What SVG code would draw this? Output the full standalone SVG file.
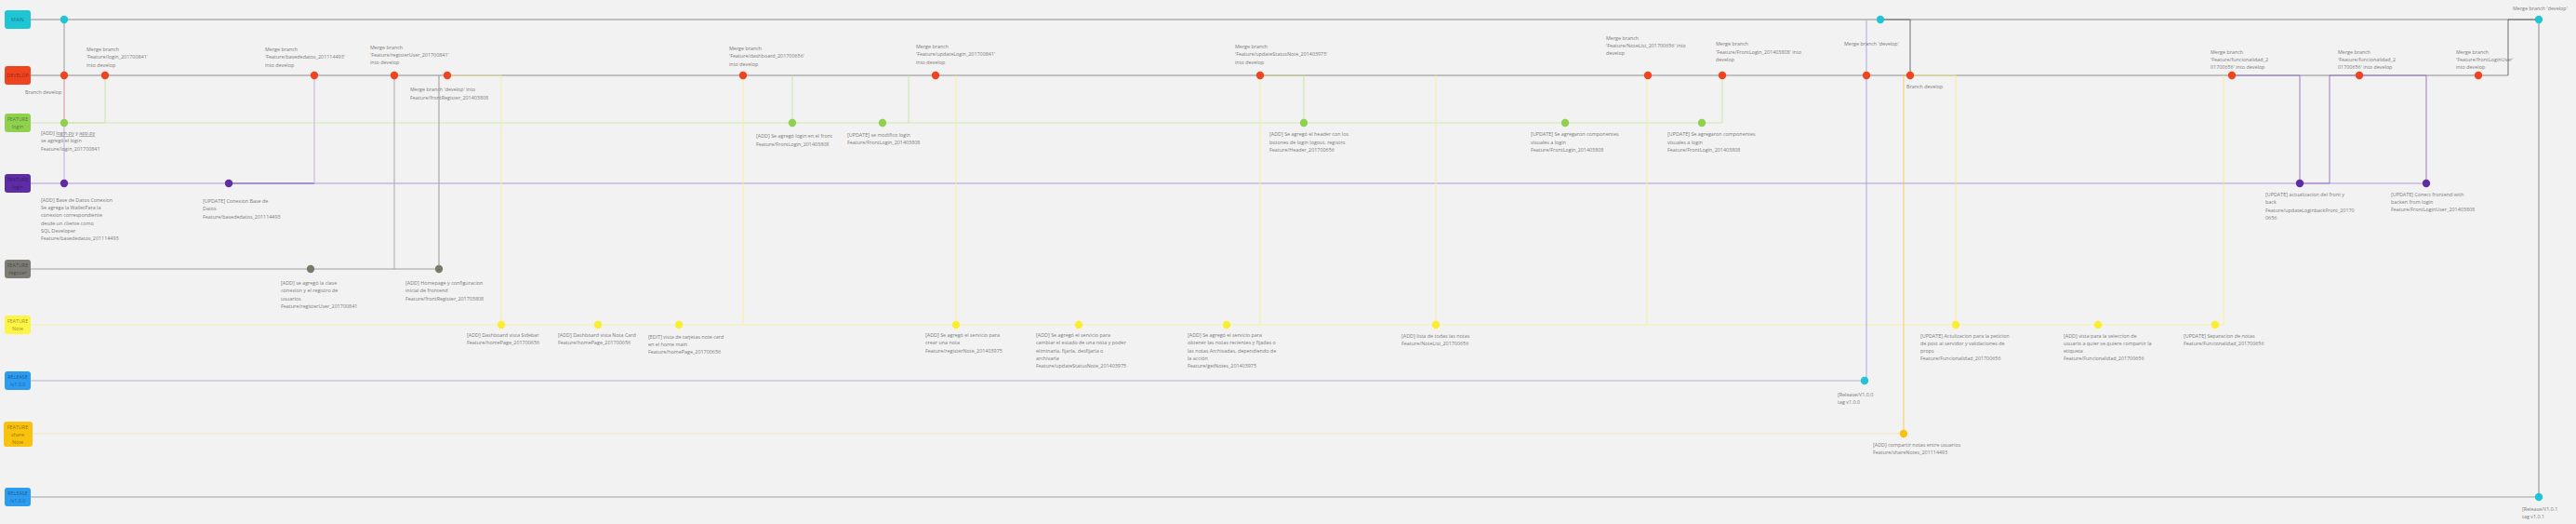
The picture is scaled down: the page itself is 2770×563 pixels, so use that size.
<svg xmlns="http://www.w3.org/2000/svg" width="2770" height="563" viewBox="0 0 2770 563">
<style>
.t{font-family:"Open Sans","Liberation Sans",sans-serif;font-size:5.4px;fill:#7c7c7c}
.b{font-family:"Open Sans","Liberation Sans",sans-serif;font-size:5.4px;fill:#000;fill-opacity:.45;text-anchor:middle}
.ln{fill:none}
.u{text-decoration:underline}
.cm{fill:#20c5d5}.cd{fill:#f0431f}.cg{fill:#8fd14f}.cp{fill:#5e2ca5}.cr{fill:#7a7a68}.cy{fill:#fbee2f}.cb{fill:#2d9bf0}.co{fill:#f8c20f}
</style>
<rect width="2770" height="563" fill="#f2f2f2"/>
<g id="connectors" class="ln">
<path d="M33,21H2730" stroke="#8c8c8c" stroke-width="1.2"/>
<path d="M33,81H2697" stroke="#8c8c8c" stroke-width="1.2"/>
<path d="M33,132H1852" stroke="#cde8ae" stroke-width="1"/>
<path d="M33,197H2609" stroke="#b49ad6" stroke-width="1"/>
<path d="M33,289H472" stroke="#a0a0a0" stroke-width="1"/>
<path d="M33,349H2391" stroke="#f6efa6" stroke-width="1.2"/>
<path d="M33,409H2005" stroke="#c6c7e0" stroke-width="1.6"/>
<path d="M33,466H2047" stroke="#f1e3bb" stroke-width="1.2"/>
<path d="M33,534H2730" stroke="#a0a0a0" stroke-width="1.2"/>
<path d="M69,21V81" stroke="#9a9a9a"/>
<path d="M69,81V132" stroke="#d8909a"/>
<path d="M69,132V197" stroke="#c2aae2"/>
<path d="M69,132H113V81" stroke="#c8e6a8"/>
<path d="M246,197H338" stroke="#7a5cb8" stroke-width="1.2"/>
<path d="M338,197V81" stroke="#c4b2e2"/>
<path d="M424,81V289" stroke="#a8a8a8"/>
<path d="M472,81V289" stroke="#999"/>
<path d="M481,81H539" stroke="#e8e09a"/>
<path d="M539,81V349" stroke="#f6efa0"/>
<path d="M799,81V349" stroke="#f6efa0"/>
<path d="M852,81V132" stroke="#c8e6a8"/>
<path d="M977,81V132" stroke="#c8e6a8"/>
<path d="M1028,81V349" stroke="#f6efa0"/>
<path d="M1355,81V349" stroke="#f6efa0"/>
<path d="M1355,81H1402" stroke="#c8d090"/>
<path d="M1402,81V132" stroke="#c8e6a8"/>
<path d="M1544,81V349" stroke="#f6efa0"/>
<path d="M1771,81V349" stroke="#f6efa0"/>
<path d="M1852,81V132" stroke="#c8e6a8"/>
<path d="M2007,21V409" stroke="#a8a8d8"/>
<path d="M2022,21H2054V81" stroke="#6f6f6f"/>
<path d="M2047,81V466" stroke="#f5cf60"/>
<path d="M2054,81H2103" stroke="#f3e690"/>
<path d="M2103,81V349" stroke="#f6ee90"/>
<path d="M2391,81V349" stroke="#f6ee90"/>
<path d="M2400,81H2473V197" stroke="#9a7ac8"/>
<path d="M2473,197H2505V81" stroke="#9a7ac8"/>
<path d="M2505,81H2609V197" stroke="#9a7ac8"/>
<path d="M2697,81V21H2730" stroke="#6f6f6f"/>
<path d="M2730,21V534" stroke="#9a9a9a" stroke-width="1.2"/>
</g>
<g id="lane-main"><rect x="5" y="11" width="28" height="20" rx="3" class="cm"/><text class="b" x="19" y="23">MAIN</text></g>
<g id="lane-develop"><rect x="5" y="71" width="28" height="20" rx="3" class="cd"/><text class="b" x="19" y="83">DEVELOP</text></g>
<g id="lane-login-green"><rect x="5" y="122" width="28" height="20" rx="3" class="cg"/><text class="b" x="19" y="130">FEATURE<tspan x="19" dy="8">login</tspan></text></g>
<g id="lane-login-purple"><rect x="5" y="187" width="28" height="20" rx="3" class="cp"/><text class="b" x="19" y="195">FEATURE<tspan x="19" dy="8">login</tspan></text></g>
<g id="lane-register"><rect x="5" y="279" width="28" height="20" rx="3" fill="#7d7d75"/><text class="b" x="19" y="287">FEATURE<tspan x="19" dy="8">register</tspan></text></g>
<g id="lane-note"><rect x="5" y="339" width="28" height="20" rx="3" fill="#fef445"/><text class="b" x="19" y="347">FEATURE<tspan x="19" dy="8">Note</tspan></text></g>
<g id="lane-release1"><rect x="5" y="399" width="28" height="20" rx="3" class="cb"/><text class="b" x="19" y="407">RELEASE<tspan x="19" dy="8">/v1.0.0</tspan></text></g>
<g id="lane-share"><rect x="4" y="453" width="31" height="27" rx="3" class="co"/><text class="b" x="19" y="461">FEATURE<tspan x="19" dy="8">share</tspan><tspan x="19" dy="8">Note</tspan></text></g>
<g id="lane-release2"><rect x="5" y="524" width="28" height="20" rx="3" class="cb"/><text class="b" x="19" y="532">RELEASE<tspan x="19" dy="8">/v1.0.0</tspan></text></g>

<g id="c-main1"><circle cx="69" cy="21" r="4.2" class="cm"/></g>
<g id="c-dev1"><circle cx="69" cy="81" r="4.2" class="cd"/><text class="t" x="27" y="101">Branch develop</text></g>
<g id="c-dev2"><circle cx="113" cy="81" r="4.2" class="cd"/><text class="t" x="93" y="55">Merge branch<tspan x="93" dy="8.3">'Feature/login_201700841'</tspan><tspan x="93" dy="8.3">into develop</tspan></text></g>
<g id="c-green1"><circle cx="69" cy="132" r="4.2" class="cg"/><text class="t" x="44" y="145">[ADD] <tspan class="u">login.py</tspan> y <tspan class="u">app.py</tspan><tspan x="44" dy="8.3">se agregó el login</tspan><tspan x="44" dy="8.3">Feature/login_201700841</tspan></text></g>
<g id="c-purple1"><circle cx="69" cy="197" r="4.2" class="cp"/><text class="t" x="44" y="217">[ADD] Base de Datos Conexion<tspan x="44" dy="8.2">Se agrega la WalletPara la</tspan><tspan x="44" dy="8.2">conexion correspondiente</tspan><tspan x="44" dy="8.2">desde un cliente como</tspan><tspan x="44" dy="8.2">SQL Developer</tspan><tspan x="44" dy="8.2">Feature/basededatos_201114493</tspan></text></g>
<g id="c-purple2"><circle cx="246" cy="197" r="4.2" class="cp"/><text class="t" x="218" y="218">[UPDATE] Conexion Base de<tspan x="218" dy="8.4">Datos</tspan><tspan x="218" dy="8.4">Feature/basededatos_201114493</tspan></text></g>
<g id="c-dev3"><circle cx="338" cy="81" r="4.2" class="cd"/><text class="t" x="285" y="55">Merge branch<tspan x="285" dy="8.3">'Feature/basededatos_201114493'</tspan><tspan x="285" dy="8.3">into develop</tspan></text></g>
<g id="c-reg1"><circle cx="334" cy="289" r="4.2" class="cr"/><text class="t" x="302" y="306">[ADD] se agregó la clase<tspan x="302" dy="8.3">conexion y el registro de</tspan><tspan x="302" dy="8.3">usuarios</tspan><tspan x="302" dy="8.3">Feature/registerUser_201700841</tspan></text></g>
<g id="c-dev4"><circle cx="424" cy="81" r="4.2" class="cd"/><text class="t" x="398" y="53">Merge branch<tspan x="398" dy="8.1">'Feature/registerUser_201700841'</tspan><tspan x="398" dy="8.1">into develop</tspan></text></g>
<g id="c-reg2"><circle cx="472" cy="289" r="4.2" class="cr"/><text class="t" x="436" y="306">[ADD] Homepage y configuracion<tspan x="436" dy="8.3">inicial de frontend</tspan><tspan x="436" dy="8.3">Feature/frontRegister_201703808</tspan></text><text class="t" x="441" y="98">Merge branch 'develop' into<tspan x="441" dy="8.8">Feature/frontRegister_201403808</tspan></text></g>
<g id="c-dev5"><circle cx="481" cy="81" r="4.2" class="cd"/></g>
<g id="c-note1"><circle cx="539" cy="349" r="4.2" class="cy"/><text class="t" x="502" y="362">[ADD] Dashboard vista Sidebar<tspan x="502" dy="8.1">Feature/homePage_201700656</tspan></text></g>
<g id="c-note2"><circle cx="643" cy="349" r="4.2" class="cy"/><text class="t" x="600" y="362">[ADD] Dashboard vista Nota Card<tspan x="600" dy="8.1">Feature/homePage_201700656</tspan></text></g>
<g id="c-note3"><circle cx="730" cy="349" r="4.2" class="cy"/><text class="t" x="697" y="364">[EDIT] vista de tarjetas note card<tspan x="697" dy="8.1">en el home main</tspan><tspan x="697" dy="8.1">Feature/homePage_201700656</tspan></text></g>
<g id="c-dev6"><circle cx="799" cy="81" r="4.2" class="cd"/><text class="t" x="784" y="54">Merge branch<tspan x="784" dy="8.4">'Feature/dashboard_201700656'</tspan><tspan x="784" dy="8.4">into develop</tspan></text></g>
<g id="c-green2"><circle cx="852" cy="132" r="4.2" class="cg"/><text class="t" x="813" y="148">[ADD] Se agregó login en el front<tspan x="813" dy="8.8">Feature/FrontLogin_201403808</tspan></text></g>
<g id="c-green3"><circle cx="949" cy="132" r="4.2" class="cg"/><text class="t" x="911" y="147">[UPDATE] se modifico login<tspan x="911" dy="8.2">Feature/FrontLogin_201403808</tspan></text></g>
<g id="c-dev7"><circle cx="1006" cy="81" r="4.2" class="cd"/><text class="t" x="985" y="52">Merge branch<tspan x="985" dy="8.3">'Feature/updateLogin_201700841'</tspan><tspan x="985" dy="8.3">into develop</tspan></text></g>
<g id="c-note4"><circle cx="1028" cy="349" r="4.2" class="cy"/><text class="t" x="995" y="362">[ADD] Se agregó el servicio para<tspan x="995" dy="8.3">crear una nota</tspan><tspan x="995" dy="8.3">Feature/registerNote_201403975</tspan></text></g>
<g id="c-note5"><circle cx="1160" cy="349" r="4.2" class="cy"/><text class="t" x="1114" y="362">[ADD] Se agregó el servicio para<tspan x="1114" dy="8.3">cambiar el estado de una nota y poder</tspan><tspan x="1114" dy="8.3">eliminarla, fijarla, desfijarla o</tspan><tspan x="1114" dy="8.3">archivarla</tspan><tspan x="1114" dy="8.3">Feature/updateStatusNote_201403975</tspan></text></g>
<g id="c-note6"><circle cx="1319" cy="349" r="4.2" class="cy"/><text class="t" x="1277" y="362">[ADD] Se agregó el servicio para<tspan x="1277" dy="8.3">obtener las notas recientes y fijadas o</tspan><tspan x="1277" dy="8.3">las notas Archivadas, dependiendo de</tspan><tspan x="1277" dy="8.3">la acción</tspan><tspan x="1277" dy="8.3">Feature/getNotes_201403975</tspan></text></g>
<g id="c-dev8"><circle cx="1355" cy="81" r="4.2" class="cd"/><text class="t" x="1328" y="52">Merge branch<tspan x="1328" dy="8.3">'Feature/updateStatusNote_201403975'</tspan><tspan x="1328" dy="8.3">into develop</tspan></text></g>
<g id="c-green4"><circle cx="1402" cy="132" r="4.2" class="cg"/><text class="t" x="1365" y="146">[ADD] Se agregó el header con los<tspan x="1365" dy="8.5">botones de login logout, registro</tspan><tspan x="1365" dy="8.2">Feature/Header_201700656</tspan></text></g>
<g id="c-note7"><circle cx="1544" cy="349" r="4.2" class="cy"/><text class="t" x="1507" y="363">[ADD] lista de todas las notas<tspan x="1507" dy="8.1">Feature/NoteList_201700656</tspan></text></g>
<g id="c-green5"><circle cx="1683" cy="132" r="4.2" class="cg"/><text class="t" x="1646" y="146">[UPDATE] Se agregaron componentes<tspan x="1646" dy="8.5">visuales a login</tspan><tspan x="1646" dy="8.2">Feature/FrontLogin_201403808</tspan></text></g>
<g id="c-dev9"><circle cx="1772" cy="81" r="4.2" class="cd"/><text class="t" x="1727" y="43">Merge branch<tspan x="1727" dy="8.1">'Feature/NoteList_201700656' into</tspan><tspan x="1727" dy="8.1">develop</tspan></text></g>
<g id="c-green6"><circle cx="1830" cy="132" r="4.2" class="cg"/><text class="t" x="1793" y="146">[UPDATE] Se agregaron componentes<tspan x="1793" dy="8.5">visuales a login</tspan><tspan x="1793" dy="8.2">Feature/FrontLogin_201403808</tspan></text></g>
<g id="c-dev10"><circle cx="1852" cy="81" r="4.2" class="cd"/><text class="t" x="1845" y="49">Merge branch<tspan x="1845" dy="8.6">'Feature/FrontLogin_201403808' into</tspan><tspan x="1845" dy="8.2">develop</tspan></text></g>
<g id="c-dev11"><circle cx="2007" cy="81" r="4.2" class="cd"/></g>
<g id="c-main2"><circle cx="2022" cy="21" r="4.2" class="cm"/><text class="t" x="1983" y="49">Merge branch 'develop'</text></g>
<g id="c-dev12"><circle cx="2054" cy="81" r="4.2" class="cd"/><text class="t" x="2050" y="95">Branch develop</text></g>
<g id="c-rel1"><circle cx="2005" cy="409" r="4.2" class="cm"/><text class="t" x="1976" y="426">[Release/V1.0.0<tspan x="1976" dy="8">tag v1.0.0</tspan></text></g>
<g id="c-share1"><circle cx="2047" cy="466" r="4.2" class="co"/><text class="t" x="2014" y="480">[ADD] compartir notas entre usuarios<tspan x="2014" dy="8">Feature/shareNotes_201114493</tspan></text></g>
<g id="c-note8"><circle cx="2103" cy="349" r="4.2" class="cy"/><text class="t" x="2065" y="363">[UPDATE] Actulizacion para la peticion<tspan x="2065" dy="8.1">de post al servidor y validaciones de</tspan><tspan x="2065" dy="8.1">props</tspan><tspan x="2065" dy="8.1">Feature/Funcionalidad_201700656</tspan></text></g>
<g id="c-note9"><circle cx="2256" cy="349" r="4.2" class="cy"/><text class="t" x="2219" y="363">[ADD] vista para la seleccion de<tspan x="2219" dy="8.1">usuario a quier se quiere compartir la</tspan><tspan x="2219" dy="8.1">etiqueta</tspan><tspan x="2219" dy="8.1">Feature/Funcionalidad_201700656</tspan></text></g>
<g id="c-note10"><circle cx="2382" cy="349" r="4.2" class="cy"/><text class="t" x="2348" y="363">[UPDATE] Separacion de notas<tspan x="2348" dy="8.1">Feature/Funcionalidad_201700656</tspan></text></g>
<g id="c-dev13"><circle cx="2400" cy="81" r="4.2" class="cd"/><text class="t" x="2377" y="58">Merge branch<tspan x="2377" dy="8.1">'Feature/funcionalidad_2</tspan><tspan x="2377" dy="8.1">01700656' into develop</tspan></text></g>
<g id="c-purple3"><circle cx="2473" cy="197" r="4.2" class="cp"/><text class="t" x="2436" y="211">[UPDATE] actualizacion del front y<tspan x="2436" dy="8.3">back</tspan><tspan x="2436" dy="8.3">Feature/updateLoginbackFront_20170</tspan><tspan x="2436" dy="8.3">0656</tspan></text></g>
<g id="c-dev14"><circle cx="2537" cy="81" r="4.2" class="cd"/><text class="t" x="2514" y="58">Merge branch<tspan x="2514" dy="8.1">'Feature/funcionalidad_2</tspan><tspan x="2514" dy="8.1">01700656' into develop</tspan></text></g>
<g id="c-purple4"><circle cx="2609" cy="197" r="4.2" class="cp"/><text class="t" x="2571" y="211">[UPDATE] Conect frontend with<tspan x="2571" dy="8.2">backen from login</tspan><tspan x="2571" dy="8.2">Feature/FrontLoginUser_201403808</tspan></text></g>
<g id="c-dev15"><circle cx="2665" cy="81" r="4.2" class="cd"/><text class="t" x="2641" y="58">Merge branch<tspan x="2641" dy="8.1">'Feature/frontLoginUser'</tspan><tspan x="2641" dy="8.1">into develop</tspan></text></g>
<g id="c-main3"><circle cx="2730" cy="21" r="4.2" class="cm"/><text class="t" x="2702" y="11">Merge branch 'develop'</text></g>
<g id="c-rel2"><circle cx="2730" cy="534" r="4.2" class="cm"/><text class="t" x="2712" y="549">[Release/V1.0.1<tspan x="2712" dy="8">tag v1.0.1</tspan></text></g>
</svg>
